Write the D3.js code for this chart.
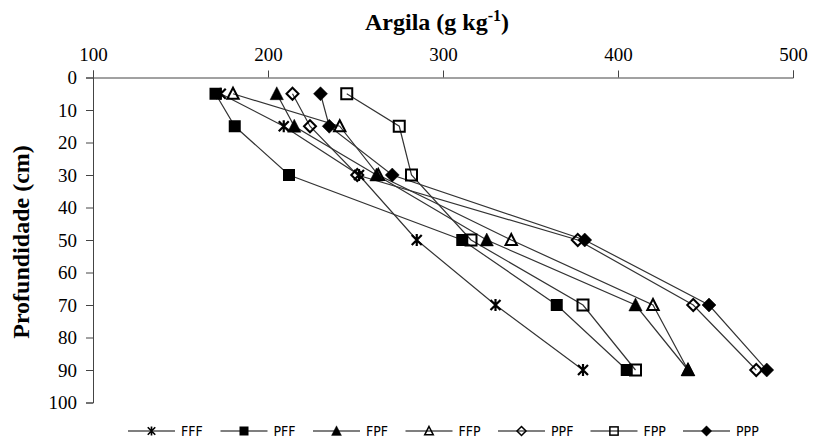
<!DOCTYPE html>
<html>
<head>
<meta charset="utf-8">
<script src="https://cdn.jsdelivr.net/npm/d3@7/dist/d3.min.js"></script>
<style>
  html, body { margin: 0; padding: 0; background: #fff; }
  svg { display: block; }
</style>
</head>
<body>
<svg id="chart" width="813" height="441"></svg>
<script>
// Clay content (g/kg) by depth for seven management systems
const depths = [5, 15, 30, 50, 70, 90];
const seriesNames = ["FFF", "PFF", "FPF", "FFP", "PPF", "FPP", "PPP"];
const FFF = [173, 209, 252, 285, 330, 380];
const PFF = [170, 181, 212, 311, 365, 405];
const FPF = [205, 215, 262, 325, 410, 440];
const FFP = [180, 241, 263, 339, 420, 440];
const PPF = [214, 224, 251, 377, 443, 479];
const FPP = [245, 275, 282, 316, 380, 410];
const PPP = [230, 235, 271, 381, 452, 485];
const xTicks = [100, 200, 300, 400, 500];
const yTicks = [0, 10, 20, 30, 40, 50, 60, 70, 80, 90, 100];

const seriesValues = { FFF, PFF, FPF, FFP, PPF, FPP, PPP };
// marker shape per series
const markerKind = {
  FFF: "star", PFF: "squareFilled", FPF: "triFilled", FFP: "triOpen",
  PPF: "diamondOpen", FPP: "squareOpen", PPP: "diamondFilled"
};

const svg = d3.select("#chart");
const serif = "'Liberation Serif', 'Times New Roman', serif";

const x = d3.scaleLinear().domain([100, 500]).range([93, 793]);
const y = d3.scaleLinear().domain([0, 100]).range([77.5, 402.5]);

// top axis
const xAxis = d3.axisTop(x).tickValues(xTicks).tickSize(7).tickSizeOuter(7).tickPadding(10);
const gx = svg.append("g").attr("transform", `translate(0,${y(0)})`).call(xAxis);
gx.selectAll("path, line").attr("stroke", "#444");
gx.selectAll("text").attr("font-family", serif).attr("font-size", 19).attr("fill", "#000");

// left axis
const yAxis = d3.axisLeft(y).tickValues(yTicks).tickSize(7).tickSizeOuter(7).tickPadding(9);
const gy = svg.append("g").attr("transform", `translate(${x(100)},0)`).call(yAxis);
gy.selectAll("path, line").attr("stroke", "#444");
gy.selectAll("text").attr("font-family", serif).attr("font-size", 19).attr("fill", "#000");

// axis titles
const xTitle = svg.append("text")
  .attr("x", 437).attr("y", 30)
  .attr("text-anchor", "middle")
  .attr("font-family", serif).attr("font-weight", "bold").attr("font-size", 24);
xTitle.append("tspan").text("Argila (g kg");
xTitle.append("tspan").attr("dy", -9).attr("font-size", 16).text("-1");
xTitle.append("tspan").attr("dy", 9).text(")");

svg.append("text")
  .attr("transform", "translate(29,242) rotate(-90)")
  .attr("text-anchor", "middle")
  .attr("font-family", serif).attr("font-weight", "bold").attr("font-size", 24)
  .text("Profundidade (cm)");

// marker drawing
function drawMarker(g, kind, cx, cy) {
  if (kind === "star") {
    g.append("path")
      .attr("d", `M${cx - 5},${cy - 5}L${cx + 5},${cy + 5}M${cx - 5},${cy + 5}L${cx + 5},${cy - 5}M${cx},${cy - 6}L${cx},${cy + 6}`)
      .attr("stroke", "#000").attr("stroke-width", 2.2).attr("fill", "none");
  } else if (kind === "squareFilled" || kind === "squareOpen") {
    const open = kind === "squareOpen";
    const h = open ? 5.5 : 6;
    g.append("rect")
      .attr("x", cx - h).attr("y", cy - h).attr("width", 2 * h).attr("height", 2 * h)
      .attr("fill", open ? "none" : "#000")
      .attr("stroke", "#000").attr("stroke-width", open ? 2 : 0);
  } else if (kind === "triFilled" || kind === "triOpen") {
    const open = kind === "triOpen";
    const r = open ? 6 : 7;
    g.append("path")
      .attr("d", `M${cx},${cy - r}L${cx + r * 0.95},${cy + r * 0.85}L${cx - r * 0.95},${cy + r * 0.85}Z`)
      .attr("fill", open ? "none" : "#000")
      .attr("stroke", "#000").attr("stroke-width", open ? 2 : 0.5);
  } else {
    const open = kind === "diamondOpen";
    const r = open ? 6 : 7;
    g.append("path")
      .attr("d", `M${cx},${cy - r}L${cx + r},${cy}L${cx},${cy + r}L${cx - r},${cy}Z`)
      .attr("fill", open ? "none" : "#000")
      .attr("stroke", "#000").attr("stroke-width", open ? 2 : 0.5);
  }
}

const line = d3.line().x(d => x(d[0])).y(d => y(d[1]));

// profile lines
const plot = svg.append("g");
seriesNames.forEach(name => {
  const pts = seriesValues[name].map((v, i) => [v, depths[i]]);
  plot.append("path")
    .attr("d", line(pts))
    .attr("fill", "none")
    .attr("stroke", "#333")
    .attr("stroke-width", 1.2);
});
// markers on top
seriesNames.forEach(name => {
  const g = plot.append("g");
  seriesValues[name].forEach((v, i) => drawMarker(g, markerKind[name], x(v), y(depths[i])));
});

// legend
const legend = svg.append("g");
const legY = 431, legX0 = 128, legStep = 92.5;
seriesNames.forEach((name, i) => {
  const lx = legX0 + i * legStep;
  const g = legend.append("g");
  g.append("line").attr("x1", lx).attr("x2", lx + 47).attr("y1", legY).attr("y2", legY)
    .attr("stroke", "#000").attr("stroke-width", 1.2);
  const small = g.append("g")
    .attr("transform", `translate(${lx + 23.5},${legY}) scale(0.75) translate(${-(lx + 23.5)},${-legY})`);
  drawMarker(small, markerKind[name], lx + 23.5, legY);
  g.append("text").attr("x", lx + 53).attr("y", legY + 5)
    .attr("font-family", "'Liberation Sans Narrow', 'DejaVu Sans Condensed', sans-serif")
    .attr("font-size", 14)
    .attr("fill", "#000")
    .text(name);
});
</script>
</body>
</html>
